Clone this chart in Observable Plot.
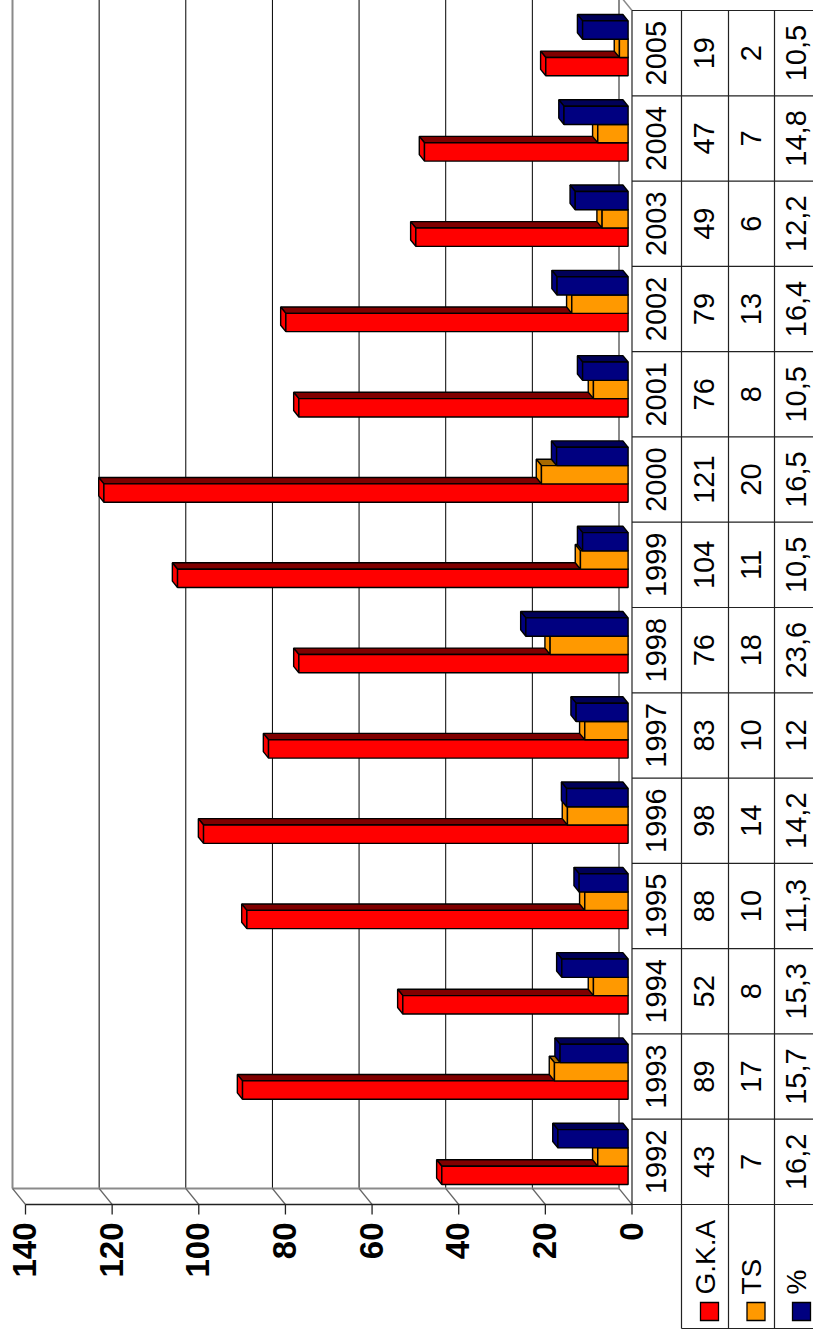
<!DOCTYPE html>
<html>
<head>
<meta charset="utf-8">
<script src="https://cdn.jsdelivr.net/npm/d3@7"></script>
<script src="https://cdn.jsdelivr.net/npm/@observablehq/plot@0.6"></script>
<style>
  html, body { margin: 0; padding: 0; background: #fff; }
  #chart { width: 813px; height: 1335px; overflow: hidden; }
</style>
</head>
<body>
<div id="chart"></div>
<script>
// Yearly figures
const years = [1992, 1993, 1994, 1995, 1996, 1997, 1998, 1999, 2000, 2001, 2002, 2003, 2004, 2005];
const gka   = [43, 89, 52, 88, 98, 83, 76, 104, 121, 76, 79, 49, 47, 19];
const ts    = [7, 17, 8, 10, 14, 10, 18, 11, 20, 8, 13, 6, 7, 2];
const pct   = [16.2, 15.7, 15.3, 11.3, 14.2, 12, 23.6, 10.5, 16.5, 10.5, 16.4, 12.2, 14.8, 10.5];

const seriesNames = ["G.K.A", "TS", "%"];
const valueTicks  = [0, 20, 40, 60, 80, 100, 120, 140];

const series     = [gka, ts, pct];
const seriesFill = ["#ff0000", "#ff9900", "#000080"];
const seriesSide = ["#800000", "#a86a00", "#000058"];

const FONT = "'Liberation Sans', Arial, sans-serif";
const fmt = (d) => String(d).replace(".", ",");

// Scales: values run right-to-left, years bottom-to-top (one unit per year slot)
const xOpts = {type: "linear", domain: [0, 140], range: [631.5, 25]};
const yOpts = {type: "linear", domain: [0, years.length], range: [1204, 10]};
const X = Plot.scale({x: xOpts});
const Y = Plot.scale({y: yOpts});

// 3D depth vector (full depth of the walls), expressed in scale units
const DX = X.invert(X.apply(0) - 13) - 0;
const DS = Y.invert(Y.apply(0) - 16) - 0;
const P = (v, s, d) => ({x: v + d * DX, y: s + d * DS});

// Bars
const BAR = 18.3 / (Y.apply(0) - Y.apply(1));
const FRONT = 0.3, BACK = 0.7;

function faces(k) {
  const front = [], side = [], end = [];
  years.forEach((yr, i) => {
    const v = series[k][i];
    const s0 = i + 0.5 + (k - 1.5) * BAR, s1 = s0 + BAR;
    const id = k + "-" + yr;
    const push = (pts, arr) => pts.forEach((p) => arr.push({...p, id}));
    push([P(0, s0, FRONT), P(v, s0, FRONT), P(v, s1, FRONT), P(0, s1, FRONT)], front);
    push([P(0, s1, FRONT), P(v, s1, FRONT), P(v, s1, BACK), P(0, s1, BACK)], side);
    push([P(v, s0, FRONT), P(v, s1, FRONT), P(v, s1, BACK), P(v, s0, BACK)], end);
  });
  return {front, side, end};
}

const barMarks = [];
series.forEach((_, k) => {
  const f = faces(k);
  const common = {x: "x", y: "y", z: "id", stroke: "#000", strokeWidth: 1.4,
                  curve: "linear-closed", strokeLinejoin: "miter"};
  barMarks.push(
    Plot.line(f.side, {...common, fill: seriesSide[k]}),
    Plot.line(f.end, {...common, fill: seriesFill[k]}),
    Plot.line(f.front, {...common, fill: seriesFill[k]})
  );
});

// Walls and floor
const nS = years.length;
const innerTicks = valueTicks.filter((v) => v > 0 && v < 140);
const edgeTicks = [0, 140];
const wallMarks = [
  Plot.link(innerTicks, {x1: (v) => P(v, 0, 1).x, x2: (v) => P(v, 0, 1).x,
    y1: DS, y2: nS + 0.5, stroke: "#000", strokeWidth: 1}),
  Plot.link(edgeTicks, {x1: (v) => P(v, 0, 1).x, x2: (v) => P(v, 0, 1).x,
    y1: DS, y2: nS + 0.5, stroke: "#8a8a8a", strokeWidth: 2}),
  Plot.link([0], {x1: P(0, 0, 1).x, x2: P(140, 0, 1).x, y1: DS, y2: DS,
    stroke: "#8a8a8a", strokeWidth: 2}),
  Plot.link(valueTicks, {x1: (v) => P(v, 0, 1).x, y1: DS, x2: (v) => v, y2: 0,
    stroke: "#666", strokeWidth: 1.2}),
  Plot.link([0], {x1: P(0, nS, 1).x, y1: nS + DS, x2: 0, y2: nS,
    stroke: "#8a8a8a", strokeWidth: 1.5})
];

// Value axis on the front edge
const tickEnd = Y.invert(Y.apply(0) + 10);
const axisMarks = [
  Plot.link([0], {x1: 0, x2: 140, y1: 0, y2: 0, stroke: "#222", strokeWidth: 1.3}),
  Plot.link(valueTicks, {x1: (v) => v, x2: (v) => v, y1: 0, y2: tickEnd, stroke: "#222", strokeWidth: 1.3}),
  Plot.text(valueTicks, {x: (v) => v, y: 0, dy: 18, text: (v) => String(v), rotate: -90,
    textAnchor: "end", lineAnchor: "middle", fontSize: 33, fontWeight: "bold",
    fontFamily: FONT, fill: "#000"})
];

// Data table
const colPx = [631.5, 681, 728, 774, 822];
const colCenter = [656.5, 704.5, 751, 796];
const tableBottom = Y.invert(1328);
const slotEdges = d3.range(0, nS + 1);
const tableMarks = [
  Plot.link(slotEdges, {x1: X.invert(colPx[0]), x2: X.invert(colPx[4]), y1: (s) => s, y2: (s) => s,
    stroke: "#222", strokeWidth: 1.2}),
  Plot.link([0], {x1: X.invert(colPx[1]), x2: X.invert(colPx[4]), y1: tableBottom, y2: tableBottom,
    stroke: "#222", strokeWidth: 1.2}),
  Plot.link([0], {x1: X.invert(colPx[0]), x2: X.invert(colPx[0]), y1: 0, y2: nS,
    stroke: "#222", strokeWidth: 1.2}),
  Plot.link(colPx.slice(1, 4), {x1: (p) => X.invert(p), x2: (p) => X.invert(p), y1: tableBottom, y2: nS,
    stroke: "#222", strokeWidth: 1.2}),
  Plot.text(years, {x: () => X.invert(colCenter[0]), y: (d, i) => i + 0.5, text: (d) => String(d),
    rotate: -90, textAnchor: "middle", lineAnchor: "middle", fontSize: 29, fontFamily: FONT, fill: "#000"}),
  ...series.map((vals, k) => Plot.text(vals, {x: () => X.invert(colCenter[k + 1]), y: (d, i) => i + 0.5,
    text: fmt, rotate: -90, textAnchor: "middle", lineAnchor: "middle", fontSize: 29,
    fontFamily: FONT, fill: "#000"})),
  // Row headers with colour keys
  Plot.text(seriesNames, {x: (d, k) => X.invert(colCenter[k + 1] + 1), y: () => Y.invert(1294),
    text: (d) => d, rotate: -90, textAnchor: "start", lineAnchor: "middle", fontSize: 28,
    fontFamily: FONT, fill: "#000"}),
  Plot.dot(seriesNames, {x: (d, k) => X.invert([709, 755.5, 801][k]), y: () => Y.invert(1311),
    symbol: "square", r: 18 / Math.sqrt(Math.PI), fill: (d, k) => seriesFill[k],
    stroke: "#000", strokeWidth: 1.3})
];

const chart = Plot.plot({
  width: 813,
  height: 1335,
  margin: 0,
  x: {...xOpts, axis: null},
  y: {...yOpts, axis: null},
  color: {type: "identity"},
  style: {background: "#fff", fontFamily: FONT},
  marks: [...wallMarks, ...tableMarks, ...axisMarks, ...barMarks]
});
document.getElementById("chart").append(chart);
</script>
</body>
</html>
